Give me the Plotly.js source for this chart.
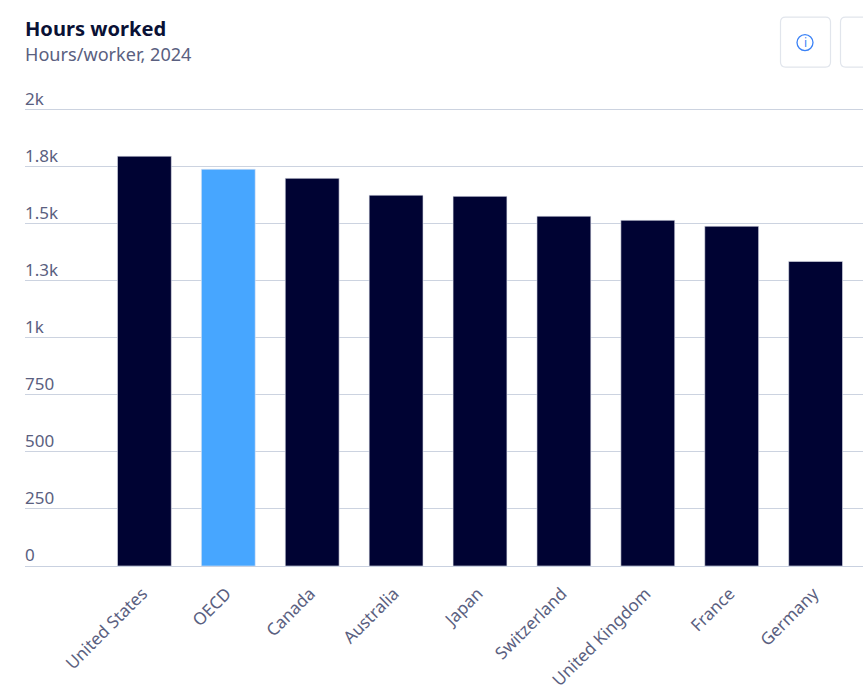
<!DOCTYPE html>
<html><head><meta charset="utf-8">
<script src="https://cdn.plot.ly/plotly-3.0.1.min.js"></script>
<style>html,body{margin:0;padding:0;background:#fff}#c{width:863px;height:691px}</style></head>
<body><div id="c"></div>
<script>
const countries=["United States","OECD","Canada","Australia","Japan","Switzerland","United Kingdom","France","Germany"];
const hours=[1796,1739,1699,1625,1620,1533,1515,1489,1335];
const barColors=["#000333","#47a6ff","#000333","#000333","#000333","#000333","#000333","#000333","#000333"];
const tickVals=[0,250,500,750,1000,1250,1500,1750,2000];
const tickLabels=["0","250","500","750","1k","1.3k","1.5k","1.8k","2k"];
const W=863,H=691,L=25,R=0,T=64.4,B=125;
const px=v=>(v-L)/(W-L-R), py=v=>1-(v-T)/(H-T-B);
function box(x0,y0,x1,y1,r){
  return {type:'path',xref:'paper',yref:'paper',layer:'above',
    path:`M${px(x0+r)},${py(y0)} L${px(x1-r)},${py(y0)} Q${px(x1)},${py(y0)} ${px(x1)},${py(y0+r)} L${px(x1)},${py(y1-r)} Q${px(x1)},${py(y1)} ${px(x1-r)},${py(y1)} L${px(x0+r)},${py(y1)} Q${px(x0)},${py(y1)} ${px(x0)},${py(y1-r)} L${px(x0)},${py(y0+r)} Q${px(x0)},${py(y0)} ${px(x0+r)},${py(y0)} Z`,
    line:{color:'#e1e5ec',width:1.2},fillcolor:'#fff'};
}
const data=[{type:'bar',x:countries,y:hours,width:0.642,
  marker:{color:barColors,line:{color:'#e4e8f0',width:0.6}},hoverinfo:'x+y'}];
const layout={
  width:W,height:H,margin:{l:L,r:R,t:T,b:B,pad:0},
  paper_bgcolor:'#fff',plot_bgcolor:'rgba(0,0,0,0)',showlegend:false,
  font:{family:'"Noto Sans",sans-serif',size:16,color:'#5a5f7d'},
  xaxis:{type:'category',categoryorder:'array',categoryarray:countries,range:[-1.423,8.565],
    tickangle:-45,showgrid:false,zeroline:false,showline:true,linecolor:'#c9d1e0',linewidth:1,ticks:'',
    ticklabelstandoff:10,ticklabelshift:-2,
    tickfont:{family:'"Noto Sans",sans-serif',size:17,color:'#5a6080'},automargin:false},
  yaxis:{range:[0,2200],tickmode:'array',tickvals:tickVals,ticktext:tickLabels,
    ticklabelposition:'inside',ticklabelshift:-11,ticklabelstandoff:-3,showline:false,zeroline:false,
    gridcolor:'#ccd3e0',gridwidth:1,ticks:'',
    tickfont:{family:'"Noto Sans",sans-serif',size:17,color:'#5a6080'},automargin:false},
  shapes:[box(780.5,17.5,830.5,67.5,5),box(840.5,17.5,900,67.5,5),
    {type:'circle',xref:'paper',yref:'paper',x0:px(797),x1:px(813),y0:py(51),y1:py(35),
     line:{color:'#3b82f6',width:1.3},fillcolor:'rgba(0,0,0,0)',layer:'above'}],
  annotations:[
    {text:'<b>Hours worked</b>',xref:'paper',yref:'paper',x:px(23),y:py(29),xanchor:'left',yanchor:'middle',showarrow:false,
     font:{family:'"Noto Sans",sans-serif',size:20.1,color:'#0a1135'}},
    {text:'Hours/worker, 2024',xref:'paper',yref:'paper',x:px(23),y:py(54),xanchor:'left',yanchor:'middle',showarrow:false,
     font:{family:'"Noto Sans",sans-serif',size:18.1,color:'#5a6080'}},
    {text:'i',xref:'paper',yref:'paper',x:px(805),y:py(43),xanchor:'center',yanchor:'middle',showarrow:false,
     font:{family:'"Noto Sans",sans-serif',size:12,color:'#3b82f6'}}
  ]
};
Plotly.newPlot('c',data,layout,{displayModeBar:false});
</script></body></html>
